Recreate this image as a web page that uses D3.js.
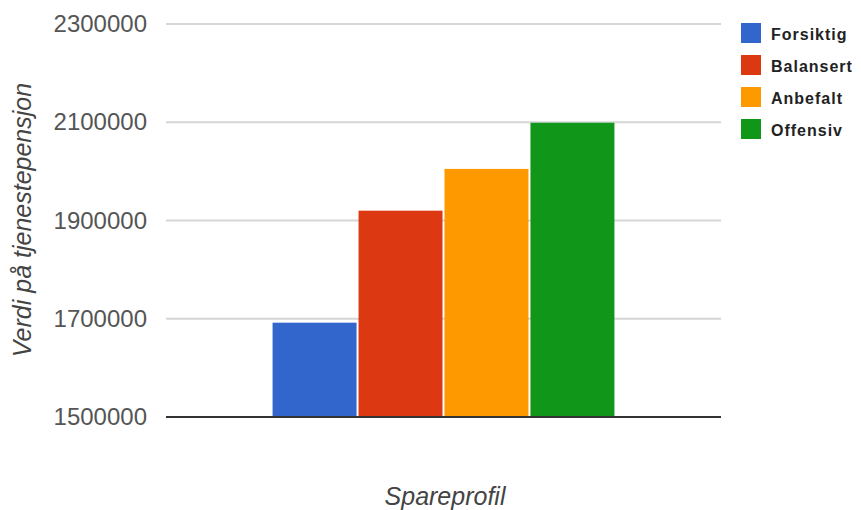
<!DOCTYPE html>
<html>
<head>
<meta charset="utf-8">
<script src="https://cdn.jsdelivr.net/npm/d3@7"></script>
<style>
  html, body { margin: 0; padding: 0; background: #fff; }
  svg { display: block; font-family: "Liberation Sans", Arial, sans-serif; }
</style>
</head>
<body>
<svg id="chart" width="861" height="510"></svg>
<script>
// Pension value per savings profile
const categories = ["Spareprofil"];
const seriesNames = ["Forsiktig", "Balansert", "Anbefalt", "Offensiv"];
const seriesValues = [1692000, 1920000, 2005000, 2099000];
const seriesColors = ["#3366cc", "#dc3912", "#ff9900", "#109618"];
const yTicks = [1500000, 1700000, 1900000, 2100000, 2300000];

const svg = d3.select("#chart");
const plot = { left: 166, right: 721, top: 24, bottom: 417 };

const y = d3.scaleLinear()
  .domain([1500000, 2300000])
  .range([plot.bottom, plot.top]);

// One category band; the bar group fills ~62% of it
const x0 = d3.scaleBand()
  .domain(categories)
  .range([plot.left, plot.right])
  .paddingInner(0)
  .paddingOuter(0.307);

const x1 = d3.scaleBand()
  .domain(seriesNames)
  .range([0, x0.bandwidth()])
  .padding(0);

// Gridlines
svg.append("g")
  .selectAll("line")
  .data(yTicks.filter(t => t !== 1500000))
  .join("line")
  .attr("x1", plot.left).attr("x2", plot.right)
  .attr("y1", d => y(d)).attr("y2", d => y(d))
  .attr("stroke", "#d6d6d6")
  .attr("stroke-width", 2);

// Y axis labels
const yAxis = d3.axisLeft(y)
  .tickValues(yTicks)
  .tickFormat(d3.format("d"))
  .tickSize(0)
  .tickPadding(19);

const yg = svg.append("g")
  .attr("transform", `translate(${plot.left},0)`)
  .call(yAxis);
yg.select(".domain").remove();
yg.selectAll("text")
  .attr("fill", "#555")
  .attr("font-size", 24)
  .attr("font-family", "'Liberation Sans', Arial, sans-serif");

// Bars
svg.append("g")
  .selectAll("g")
  .data(categories)
  .join("g")
  .attr("transform", d => `translate(${x0(d)},0)`)
  .selectAll("rect")
  .data(() => seriesNames.map((name, i) => ({ name, value: seriesValues[i], color: seriesColors[i] })))
  .join("rect")
  .attr("x", d => x1(d.name) + 1)
  .attr("width", x1.bandwidth() - 2)
  .attr("y", d => y(d.value))
  .attr("height", d => y(1500000) - y(d.value))
  .attr("fill", d => d.color);

// Baseline
svg.append("line")
  .attr("x1", plot.left).attr("x2", plot.right)
  .attr("y1", y(1500000)).attr("y2", y(1500000))
  .attr("stroke", "#333")
  .attr("stroke-width", 2);

// Axis titles
svg.append("text")
  .attr("transform", "translate(31,220) rotate(-90)")
  .attr("text-anchor", "middle")
  .attr("font-style", "italic")
  .attr("font-size", 25)
  .attr("fill", "#444")
  .text("Verdi på tjenestepensjon");

svg.append("text")
  .attr("x", 445)
  .attr("y", 505)
  .attr("text-anchor", "middle")
  .attr("font-style", "italic")
  .attr("font-size", 25)
  .attr("fill", "#444")
  .text("Spareprofil");

// Legend
const legend = svg.append("g")
  .attr("transform", "translate(741,23)")
  .selectAll("g")
  .data(seriesNames)
  .join("g")
  .attr("transform", (d, i) => `translate(0,${i * 32})`);

legend.append("rect")
  .attr("width", 20).attr("height", 20)
  .attr("fill", (d, i) => seriesColors[i]);

legend.append("text")
  .attr("x", 30)
  .attr("y", 17)
  .attr("font-size", 16)
  .attr("font-weight", "bold")
  .attr("letter-spacing", 1)
  .attr("fill", "#222")
  .text(d => d);
</script>
</body>
</html>
